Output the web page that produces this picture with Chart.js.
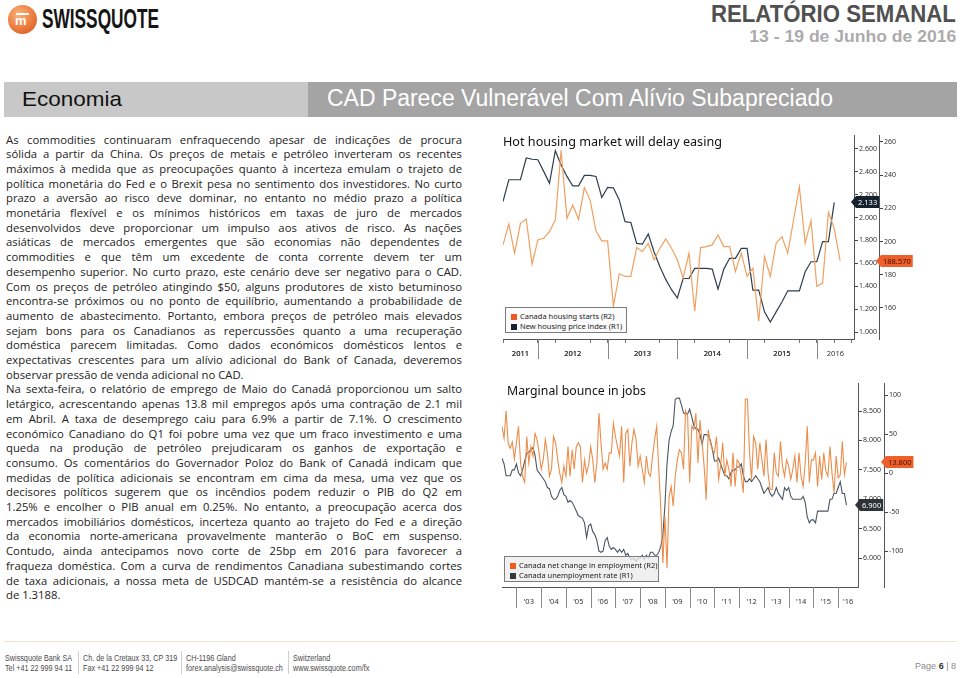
<!DOCTYPE html>
<html lang="pt">
<head>
<meta charset="utf-8">
<title>Relatório Semanal</title>
<script src="https://cdn.jsdelivr.net/npm/chart.js@4.4.1/dist/chart.umd.min.js"></script>
<style>
  html, body { margin: 0; padding: 0; background: #fff; }
  body { width: 960px; height: 678px; position: relative; overflow: hidden; font-family: "Liberation Sans", Arial, sans-serif; }
  .abs { position: absolute; white-space: nowrap; }
  #logoMark { left: 8px; top: 5px; width: 29px; height: 29px; border-radius: 50%;
    background: radial-gradient(circle at 38% 32%, #f9b27a 0%, #ec7a3c 55%, #c95420 100%); }
  #logoMark .bar { position: absolute; left: 8px; top: 8px; width: 13px; height: 2px; background: #fff; }
  #logoMark .m { position: absolute; left: 7px; top: 9px; font: bold 13px/13px "Liberation Sans", sans-serif; color: #fff; }
  #logoText { left: 42px; top: 6px; font: bold 27px/27px "Liberation Sans", sans-serif; color: #151515; }
  #reportTitle { right: 4px; top: 2px; font: bold 24px/24px "Liberation Sans", sans-serif; color: #505050; }
  #reportDate { right: 4px; top: 28px; font: bold 17px/17px "Liberation Sans", sans-serif; color: #ababab; }
  #bandLeft { left: 4px; top: 82px; width: 304px; height: 35px; background: #c8c8c8; }
  #bandRight { left: 308px; top: 82px; width: 649px; height: 35px; background: #a4a4a4; }
  #bandLeftText { left: 22px; top: 88px; font: 21px/21px "Liberation Sans", sans-serif; color: #111; }
  #bandRightText { left: 327px; top: 87px; font: 23px/23px "Liberation Sans", sans-serif; color: #fff; }
  #article { position: absolute; left: 6px; top: 132.6px; width: 456px; height: 480px; }
  #article .line { position: absolute; left: 0; height: 14.7px; font: 11.3px/14.7px "Open Sans", Lato, sans-serif; color: #222; white-space: pre; }
  .chartBox { position: absolute; left: 497px; width: 463px; height: 240px; }
  .chartTitle { position: absolute; font: 12px/12px "Noto Sans", sans-serif; color: #111; white-space: nowrap; z-index: 2; }
  .legend { position: absolute; border: 1px solid #7c7c7c; z-index: 2; box-sizing: border-box; padding: 3px 0 0 5px; }
  .legend .row { font: 7.5px/10px "Noto Sans", sans-serif; color: #222; white-space: nowrap; }
  .legend .sw { display: inline-block; width: 6px; height: 6px; margin-right: 3px; vertical-align: -0.5px; }
  #footLine { left: 4px; top: 641px; width: 953px; height: 1px; background: #ece2d4; }
  .foot { font: 8.5px/10px "Liberation Sans", sans-serif; color: #4a4a4a; transform: scaleX(0.85); transform-origin: left top; }
  .sep { width: 1px; height: 23px; top: 651px; background: #cfcfcf; }
  #page { right: 4px; top: 661px; font: 9px/10px "Liberation Sans", sans-serif; color: #8a8a8a; }
  #page b { color: #333; }
</style>
</head>
<body>

<div class="abs" id="logoMark"><div class="bar"></div><div class="m">m</div></div>
<div class="abs" id="logoText">SWISSQUOTE</div>
<div class="abs" id="reportTitle">RELATÓRIO SEMANAL</div>
<div class="abs" id="reportDate">13 - 19 de Junho de 2016</div>

<div class="abs" id="bandLeft"></div>
<div class="abs" id="bandRight"></div>
<div class="abs" id="bandLeftText">Economia</div>
<div class="abs" id="bandRightText">CAD Parece Vulnerável Com Alívio Subapreciado</div>

<div id="article"></div>

<div class="chartBox" style="top:128px;">
  <canvas id="housingChart" width="463" height="240"></canvas>
</div>
<div class="chartTitle" id="housingTitle" style="left:503px; top:135.6px;">Hot housing market will delay easing</div>
<div class="legend" id="housingLegend" style="left:505px; top:307px; width:122px; height:26px; background:#fbfbfb;"></div>

<div class="chartBox" style="top:378px;">
  <canvas id="jobsChart" width="463" height="240"></canvas>
</div>
<div class="chartTitle" id="jobsTitle" style="left:507px; top:384.6px;">Marginal bounce in jobs</div>
<div class="legend" id="jobsLegend" style="left:504px; top:556px; width:155px; height:26px; background:rgba(236,236,236,0.78);"></div>

<div class="abs" id="footLine"></div>
<div class="abs foot" style="left:5px; top:653px;">Swissquote Bank SA<br>Tel +41 22 999 94 11</div>
<div class="abs sep" style="left:78px;"></div>
<div class="abs foot" style="left:83px; top:653px;">Ch. de la Cretaux 33, CP 319<br>Fax +41 22 999 94 12</div>
<div class="abs sep" style="left:181px;"></div>
<div class="abs foot" style="left:186px; top:653px;">CH-1196 Gland<br>forex.analysis@swissquote.ch</div>
<div class="abs sep" style="left:288px;"></div>
<div class="abs foot" style="left:293px; top:653px;">Switzerland<br>www.swissquote.com/fx</div>
<div class="abs" id="page">Page <b>6</b> | 8</div>

<script>
// ---- Hot housing market will delay easing (monthly, first point Jul 2011) ----
const housingFirstMonth = 6;            // months after Jan 2011
const housingYears = ["2011", "2012", "2013", "2014", "2015", "2016"];
const housingStarts = [
  198, 210.6, 193, 211, 213.6, 186.4,
  201, 202, 206, 213, 255, 214, 222, 213.4, 232.4, 225, 206.4, 200.4,
  200.4, 161, 180.6, 179, 179, 196.4, 194, 199, 189, 196, 201.6, 196,
  189, 178, 193, 158, 196.4, 197, 198, 204, 197, 197, 182, 193,
  179, 184, 152, 191, 179, 199, 203, 193, 213, 233, 199, 212.6,
  173, 175, 217.6, 208, 188.57
];
const housingPriceIndex = [
  2.141, 2.331, 2.331, 2.331, 2.521, 2.51,
  2.506, 2.404, 2.30, 2.585, 2.46, 2.36, 2.278, 2.278, 2.369, 2.369, 2.36, 2.176,
  2.264, 2.26, 2.155, 1.965, 1.957, 1.775, 1.769, 1.857, 1.70, 1.57, 1.46, 1.37,
  1.298, 1.468, 1.468, 1.556, 1.556, 1.556, 1.55, 1.375, 1.55, 1.644, 1.644, 1.731,
  1.731, 1.366, 1.366, 1.176, 1.088, 1.176, 1.263, 1.36, 1.36, 1.36, 1.527, 1.614,
  1.614, 1.79, 1.79, 2.133
];
const housingStartsTicks = [160, 180, 200, 220, 240, 260];
const housingPriceTicks = [1.0, 1.2, 1.4, 1.6, 1.8, 2.0, 2.2, 2.4, 2.6];

// ---- Marginal bounce in jobs (monthly, first point Jun 2002) ----
const jobsFirstMonth = 5;               // months after Jan 2002
const jobsYears = ["'03", "'04", "'05", "'06", "'07", "'08", "'09", "'10", "'11", "'12", "'13", "'14", "'15", "'16"];
const employmentChange = [
  60, 45, 80, 38, 32, 40, 18,
  39, 60, 13, -4, -12, 47, 13, 34, 22, 51, 43, 26,
  5, 17, 43, 26, -4, 5, 47, 39, 17, 0, -12, 9,
  -4, 34, -4, 30, 5, 34, 39, 34, -12, 17, 0, 10,
  34, 17, -12, 13, 77, 39, 5, 13, 5, 26, 26, 64,
  47, 34, 22, 60, -12, 51, 56, 9, 39, 56, 43, 9,
  22, 5, -12, 22, 0, -4, 22, 43, 60, 5, -46, -115,
  -55, -122, -30, -17, -42, -4, 17, 30, 26, 5, 80, 73,
  -12, 60, 56, 77, 13, 68, 39, 9, -34, 56, 39, 30,
  26, 47, -8, 9, 39, -4, 17, 5, -17, 26, -17, 17,
  13, -4, -25, 95, 95, 26, -8, 47, 39, 5, 39, 17,
  -4, 43, 0, -21, -21, 26, 0, -4, 41, 9, -4, 17,
  9, -8, 5, 22, -12, 26, -4, -17, 13, 60, -12, 17,
  17, 26, -17, 22, -8, 26, 3, -4, 34, 0, -25, 22,
  -6, -2, 41, -2, 13.8
];
const unemploymentRate = [
  7.7, 7.6, 7.4, 7.4, 7.4, 7.5, 7.5,
  7.6, 7.45, 7.4, 7.5, 7.65, 7.78, 7.8, 7.85, 7.88, 7.75, 7.5, 7.45,
  7.4, 7.35, 7.3, 7.2, 7.18, 7.05, 7.0, 7.0, 7.05, 7.15, 7.2, 7.08,
  7.05, 6.95, 6.98, 6.95, 6.88, 6.8, 6.72, 6.7, 6.68, 6.6, 6.35, 6.55,
  6.58, 6.45, 6.4, 6.3, 6.12, 6.1, 6.12, 6.3, 6.35, 6.2, 6.15, 6.18,
  6.15, 6.1, 6.15, 6.1, 6.15, 6.05, 6.08, 6.0, 5.98, 6.0, 5.95, 6.0,
  6.0, 6.05, 5.98, 6.05, 6.0, 6.1, 6.1, 6.05, 6.05, 6.1, 6.2, 6.4,
  6.9, 7.6, 8.0, 8.15, 8.25, 8.7, 8.72, 8.72, 8.6, 8.47, 8.45, 8.45,
  8.53, 8.4, 8.25, 8.2, 8.19, 8.1, 7.94, 8.1, 8.1, 8.08, 8.0, 7.85,
  7.65, 7.65, 7.7, 7.6, 7.5, 7.4, 7.4, 7.35, 7.45, 7.5, 7.5, 7.55,
  7.55, 7.6, 7.4, 7.3, 7.3, 7.35, 7.3, 7.35, 7.4, 7.35, 7.3, 7.2,
  7.1, 7.15, 7.2, 7.1, 7.05, 7.1, 7.2, 7.1, 7.05, 7.0, 7.2, 7.15,
  7.2, 7.05, 7.0, 7.0, 7.0, 7.0, 7.0, 7.05, 6.95, 6.7, 6.6, 6.65,
  6.65, 6.6, 6.8, 6.8, 6.8, 6.8, 6.8, 6.8, 7.0, 7.0, 7.1, 7.1,
  7.2, 7.3, 7.1, 7.1, 6.9
];
const jobsChangeTicks = [-100, -50, 0, 50, 100];
const jobsRateTicks = [6.0, 6.5, 7.0, 7.5, 8.0, 8.5];

// ---- article text, one entry per printed line ----
const articleLines = [
  "As commodities continuaram enfraquecendo apesar de indicações de procura",
  "sólida a partir da China. Os preços de metais e petróleo inverteram os recentes",
  "máximos à medida que as preocupações quanto à incerteza emulam o trajeto de",
  "política monetária do Fed e o Brexit pesa no sentimento dos investidores. No curto",
  "prazo a aversão ao risco deve dominar, no entanto no médio prazo a política",
  "monetária flexível e os mínimos históricos em taxas de juro de mercados",
  "desenvolvidos deve proporcionar um impulso aos ativos de risco. As nações",
  "asiáticas de mercados emergentes que são economias não dependentes de",
  "commodities e que têm um excedente de conta corrente devem ter um",
  "desempenho superior. No curto prazo, este cenário deve ser negativo para o CAD.",
  "Com os preços de petróleo atingindo $50, alguns produtores de xisto betuminoso",
  "encontra-se próximos ou no ponto de equilíbrio, aumentando a probabilidade de",
  "aumento de abastecimento. Portanto, embora preços de petróleo mais elevados",
  "sejam bons para os Canadianos as repercussões quanto a uma recuperação",
  "doméstica parecem limitadas. Como dados económicos domésticos lentos e",
  "expectativas crescentes para um alívio adicional do Bank of Canada, deveremos",
  "observar pressão de venda adicional no CAD.",
  "Na sexta-feira, o relatório de emprego de Maio do Canadá proporcionou um salto",
  "letárgico, acrescentando apenas 13.8 mil empregos após uma contração de 2.1 mil",
  "em Abril. A taxa de desemprego caiu para 6.9% a partir de 7.1%. O crescimento",
  "económico Canadiano do Q1 foi pobre uma vez que um fraco investimento e uma",
  "queda na produção de petróleo prejudicaram os ganhos de exportação e",
  "consumo. Os comentários do Governador Poloz do Bank of Canadá indicam que",
  "medidas de política adicionais se encontram em cima da mesa, uma vez que os",
  "decisores políticos sugerem que os incêndios podem reduzir o PIB do Q2 em",
  "1.25% e encolher o PIB anual em 0.25%. No entanto, a preocupação acerca dos",
  "mercados imobiliários domésticos, incerteza quanto ao trajeto do Fed e a direção",
  "da economia norte-americana provavelmente manterão o BoC em suspenso.",
  "Contudo, ainda antecipamos novo corte de 25bp em 2016 para favorecer a",
  "fraqueza doméstica. Com a curva de rendimentos Canadiana subestimando cortes",
  "de taxa adicionais, a nossa meta de USDCAD mantém-se a resistência do alcance",
  "de 1.3188."
];
const paragraphEnds = [16, 31];
const ARTICLE_W = 456;
const LINE_H = 14.7;

function layoutArticle() {
  const box = document.getElementById("article");
  box.innerHTML = "";
  articleLines.forEach((text, i) => {
    const line = document.createElement("div");
    line.className = "line";
    line.style.top = (i * LINE_H) + "px";
    const span = document.createElement("span");
    span.textContent = text;
    line.appendChild(span);
    box.appendChild(line);

    let w = span.getBoundingClientRect().width;
    if (w > ARTICLE_W) {
      span.style.letterSpacing = ((ARTICLE_W - w) / text.length) + "px";
      w = span.getBoundingClientRect().width;
    }
    const gaps = (text.match(/ /g) || []).length;
    if (!paragraphEnds.includes(i) && gaps > 0 && w < ARTICLE_W) {
      span.style.wordSpacing = ((ARTICLE_W - w) / gaps) + "px";
    }
  });
}

function fitWidth(id, target, origin) {
  const el = document.getElementById(id);
  el.style.transform = "none";
  const w = el.getBoundingClientRect().width;
  if (w > 0) {
    el.style.transformOrigin = origin || "left center";
    el.style.transform = "scaleX(" + (target / w) + ")";
  }
}

function layoutHeader() {
  fitWidth("logoText", 117);
  fitWidth("reportTitle", 245, "right center");
  fitWidth("reportDate", 207, "right center");
  fitWidth("bandLeftText", 100);
  fitWidth("bandRightText", 506);
  fitWidth("housingTitle", 219);
  fitWidth("jobsTitle", 139);
}

// ---- chart helpers ----
Chart.defaults.font.family = '"Noto Sans", sans-serif';
Chart.defaults.font.size = 7;
Chart.defaults.color = "#333";

function toPoints(values, firstMonth) {
  return values.map((v, i) => ({ x: firstMonth + i, y: v }));
}

function yearMids(labels, firstYearIndex, xMin, xMax) {
  return labels.map((_, i) => {
    const start = Math.max((firstYearIndex + i) * 12, xMin);
    const end = Math.min((firstYearIndex + i + 1) * 12, xMax);
    return (start + end) / 2;
  });
}

function yearBounds(labels, firstYearIndex, xMin) {
  const out = [];
  labels.forEach((_, i) => {
    const b = (firstYearIndex + i) * 12;
    if (b > xMin) out.push(b);
  });
  return out;
}

// short separators below the time axis, between the year labels
const yearDividers = {
  id: "yearDividers",
  afterDraw(chart, args, opts) {
    const scale = chart.scales.x;
    const ctx = chart.ctx;
    ctx.save();
    ctx.strokeStyle = opts.color;
    ctx.lineWidth = 1;
    opts.values.forEach(v => {
      const x = Math.round(scale.getPixelForValue(v)) + 0.5;
      ctx.beginPath();
      ctx.moveTo(x, scale.top);
      ctx.lineTo(x, scale.top + opts.length);
      ctx.stroke();
    });
    ctx.restore();
  }
};

// last-value tag on each series' own axis
const valueTags = {
  id: "valueTags",
  afterDraw(chart) {
    const ctx = chart.ctx;
    ctx.save();
    ctx.font = '7.5px "Noto Sans", sans-serif';
    ctx.textBaseline = "middle";
    chart.data.datasets.forEach(ds => {
      const scale = chart.scales[ds.yAxisID];
      const last = ds.data[ds.data.length - 1].y;
      const y = Math.round(scale.getPixelForValue(last));
      const text = last.toFixed(3);
      const w = ctx.measureText(text).width + 4;
      const h = 12;
      const tip = scale.left - 3;
      ctx.fillStyle = ds.tagColor;
      ctx.beginPath();
      ctx.moveTo(tip, y);
      ctx.lineTo(tip + 5, y - h / 2);
      ctx.lineTo(tip + 5 + w, y - h / 2);
      ctx.lineTo(tip + 5 + w, y + h / 2);
      ctx.lineTo(tip + 5, y + h / 2);
      ctx.closePath();
      ctx.fill();
      ctx.fillStyle = ds.tagText;
      ctx.fillText(text, tip + 7, y + 0.5);
    });
    ctx.restore();
  }
};

function timeAxis(mids, labels, minorTicks, xMin, xMax) {
  const isMid = v => mids.some(m => Math.abs(m - v) < 1e-6);
  return {
    type: "linear",
    min: xMin,
    max: xMax,
    afterBuildTicks: scale => {
      const vals = minorTicks.concat(mids).sort((a, b) => a - b);
      scale.ticks = vals.map(v => ({ value: v }));
    },
    afterFit: scale => { scale.height = 29; },
    ticks: {
      autoSkip: false,
      maxRotation: 0,
      padding: 6,
      font: { size: 7.5 },
      color: "#333",
      callback: v => {
        const i = mids.findIndex(m => Math.abs(m - v) < 1e-6);
        return i >= 0 ? labels[i] : "";
      }
    },
    grid: {
      display: true,
      drawOnChartArea: false,
      drawTicks: true,
      tickLength: 4,
      tickColor: c => (c.tick && isMid(c.tick.value)) ? "rgba(0,0,0,0)" : "#777"
    },
    border: { display: true, color: "#555", width: 1 }
  };
}

function valueAxis(min, max, ticks, decimals, width, weight) {
  return {
    type: "linear",
    position: "right",
    weight: weight,
    min: min,
    max: max,
    afterBuildTicks: scale => { scale.ticks = ticks.map(v => ({ value: v })); },
    afterFit: scale => { scale.width = width; },
    ticks: {
      padding: 1,
      color: "#333",
      callback: v => Number(v).toFixed(decimals)
    },
    grid: { display: true, drawOnChartArea: false, drawTicks: true, tickLength: 4, tickColor: "#444" },
    border: { display: true, color: "#555", width: 1 }
  };
}

function buildLegend(chart, id) {
  const el = document.getElementById(id);
  el.innerHTML = "";
  chart.data.datasets.forEach(ds => {
    const row = document.createElement("div");
    row.className = "row";
    const sw = document.createElement("span");
    sw.className = "sw";
    sw.style.background = ds.legendColor;
    row.appendChild(sw);
    row.appendChild(document.createTextNode(ds.label));
    el.appendChild(row);
  });
}

// ---- chart 1 ----
const housingXMin = 6, housingXMax = 66.4;
const housingMids = yearMids(housingYears, 0, housingXMin, housingXMax);
const housingQuarters = [];
for (let m = 6; m <= housingXMax; m += 3) housingQuarters.push(m);

const housingChart = new Chart(document.getElementById("housingChart"), {
  type: "line",
  data: {
    datasets: [
      {
        label: "Canada housing starts (R2)",
        data: toPoints(housingStarts, housingFirstMonth),
        yAxisID: "yR2",
        borderColor: "#f0a060",
        borderWidth: 1.2,
        pointRadius: 0,
        tagColor: "#ee5f2a",
        tagText: "#3b1204",
        legendColor: "#ef5a23"
      },
      {
        label: "New housing price index (R1)",
        data: toPoints(housingPriceIndex, housingFirstMonth),
        yAxisID: "yR1",
        borderColor: "#2f3e4e",
        borderWidth: 1.2,
        pointRadius: 0,
        tagColor: "#15212d",
        tagText: "#ffffff",
        legendColor: "#17232f"
      }
    ]
  },
  options: {
    responsive: false,
    animation: false,
    layout: { padding: { left: 6, top: 7, right: 36, bottom: 0 } },
    plugins: {
      legend: { display: false },
      tooltip: { enabled: false },
      yearDividers: { values: yearBounds(housingYears, 0, housingXMin), length: 20, color: "#8a8a8a" }
    },
    scales: {
      x: timeAxis(housingMids, housingYears, housingQuarters, housingXMin, housingXMax),
      yR1: valueAxis(0.939, 2.722, housingPriceTicks, 3, 25, 0),
      yR2: valueAxis(141.3, 264.2, housingStartsTicks, 0, 45, 1)
    }
  },
  plugins: [yearDividers, valueTags]
});
buildLegend(housingChart, "housingLegend");

// ---- chart 2 ----
const jobsXMin = 5, jobsXMax = 177.6;
const jobsMids = yearMids(jobsYears, 1, jobsXMin, jobsXMax);

const jobsChart = new Chart(document.getElementById("jobsChart"), {
  type: "line",
  data: {
    datasets: [
      {
        label: "Canada net change in employment (R2)",
        data: toPoints(employmentChange, jobsFirstMonth),
        yAxisID: "yR2",
        borderColor: "#ec8d4a",
        borderWidth: 1.1,
        pointRadius: 0,
        tagColor: "#ee5f2a",
        tagText: "#3b1204",
        legendColor: "#ef5a23"
      },
      {
        label: "Canada unemployment rate (R1)",
        data: toPoints(unemploymentRate, jobsFirstMonth),
        yAxisID: "yR1",
        borderColor: "#4b5661",
        borderWidth: 1.1,
        pointRadius: 0,
        tagColor: "#2e3338",
        tagText: "#ffffff",
        legendColor: "#33393f"
      }
    ]
  },
  options: {
    responsive: false,
    animation: false,
    layout: { padding: { left: 5, top: 4, right: 36, bottom: 0 } },
    plugins: {
      legend: { display: false },
      tooltip: { enabled: false },
      yearDividers: { values: yearBounds(jobsYears, 1, jobsXMin), length: 21, color: "#8a8a8a" }
    },
    scales: {
      x: Object.assign(timeAxis(jobsMids, jobsYears, [], jobsXMin, jobsXMax), {
        afterFit: scale => { scale.height = 31; }
      }),
      yR1: valueAxis(5.51, 8.973, jobsRateTicks, 3, 26, 0),
      yR2: valueAxis(-145.9, 115.3, jobsChangeTicks, 0, 40, 1)
    }
  },
  plugins: [yearDividers, valueTags]
});
buildLegend(jobsChart, "jobsLegend");

layoutArticle();
layoutHeader();
if (document.fonts && document.fonts.ready) {
  document.fonts.ready.then(() => { layoutArticle(); layoutHeader(); });
}
</script>
</body>
</html>
